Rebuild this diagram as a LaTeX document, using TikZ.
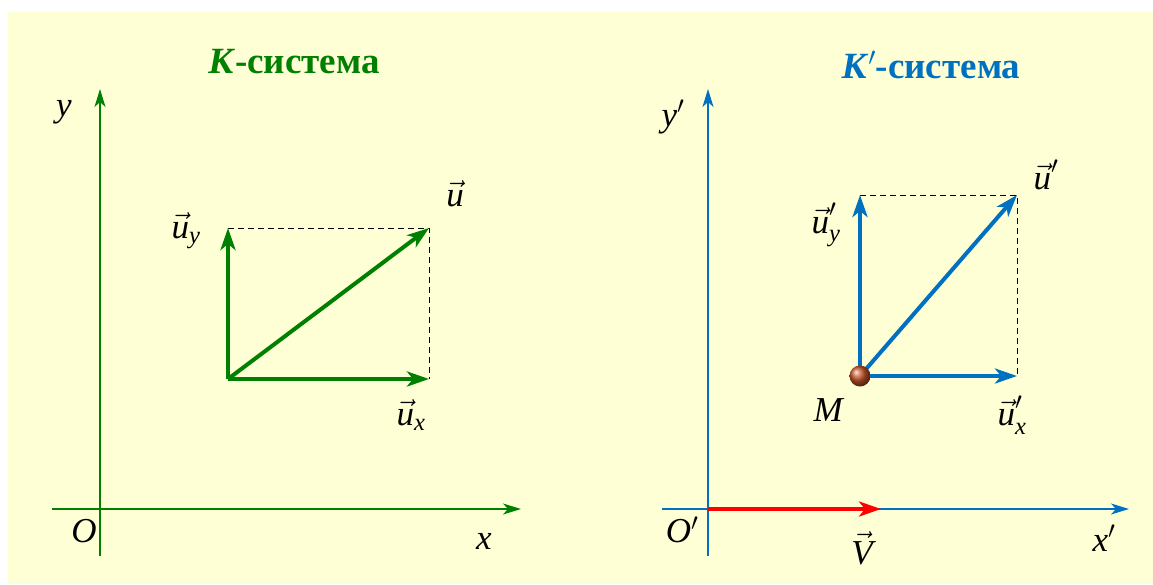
\documentclass[tikz,border=0pt]{standalone}
\usepackage{fix-cm}
\usepackage{amsmath}
\usepackage{fontspec}
\setmainfont{Liberation Serif}
\usetikzlibrary{arrows.meta}
\definecolor{bg}{RGB}{255,255,214}
\definecolor{kgreen}{RGB}{0,128,0}
\definecolor{kblue}{RGB}{0,112,192}
\definecolor{kred}{RGB}{255,0,0}
\definecolor{ballc}{RGB}{200,85,40}
\begin{document}
\begin{tikzpicture}[x=1pt,y=-1pt,
  axis/.style={line width=1.6pt,-{Stealth[length=18pt,width=11pt,inset=5pt]}},
  vecarrow/.style={line width=4pt,-{Stealth[length=22pt,width=15pt,inset=6pt]}},
  proj/.style={line width=1pt,dash pattern=on 6pt off 4pt},
  lbl/.style={font=\fontsize{35}{40}\selectfont, inner sep=0pt},
  ttl/.style={font=\fontsize{37}{42}\selectfont\bfseries, inner sep=0pt}]
\useasboundingbox (0,0) rectangle (1153,584);
\fill[white] (0,0) rectangle (1153,584);
\fill[bg] (8,12) rectangle (1153,584);

% ---------- K system ----------
\coordinate (Oyb) at (100,556);
\coordinate (Oyt) at (100,89);
\coordinate (Oxl) at (52,509);
\coordinate (Oxr) at (521,509);
\draw[axis,kgreen] (Oyb) -- (Oyt);
\draw[axis,kgreen] (Oxl) -- (Oxr);

\coordinate (A) at (228,379);
\coordinate (Ay) at (228,228);
\coordinate (Ax) at (429,379);
\coordinate (Au) at (429,228);
\draw[proj] (Ay) -- (Au) -- (Ax);
\draw[vecarrow,kgreen] (A) -- (Ay);
\draw[vecarrow,kgreen] (A) -- (Ax);
\draw[vecarrow,kgreen] (A) -- (Au);

\node[ttl,kgreen] (t1) at (294,62) {\textit{К}-система};
\node[lbl] (ly) at (64,112) {\textit{y}};
\node[lbl] (lO) at (84,531) {\textit{O}};
\node[lbl] (lx) at (484,541) {\textit{x}};
\node[lbl] (luy) at (186,231) {$\vec{\textit{u}}_{\textit{y}}$};
\node[lbl] (lu) at (455,194) {$\vec{\textit{u}}$};
\node[lbl] (lux) at (411,415) {$\vec{\textit{u}}_{\textit{x}}$};

% ---------- K' system ----------
\coordinate (Pyb) at (708,556);
\coordinate (Pyt) at (708,89);
\coordinate (Pxl) at (662,509);
\coordinate (Pxr) at (1129,509);
\draw[axis,kblue] (Pyb) -- (Pyt);
\draw[axis,kblue] (Pxl) -- (Pxr);
\coordinate (Vs) at (708,509);
\coordinate (Ve) at (881,509);
\draw[vecarrow,kred] (Vs) -- (Ve);

\coordinate (M) at (860,376);
\coordinate (My) at (860,195);
\coordinate (Mx) at (1017,376);
\coordinate (Mu) at (1017,195);
\draw[proj] (My) -- (Mu) -- (Mx);
\draw[vecarrow,kblue] (M) -- (My);
\draw[vecarrow,kblue] (M) -- (Mx);
\draw[vecarrow,kblue] (M) -- (Mu);
\shade[ball color=ballc] (M) circle (10.5);

\node[ttl,kblue] (t2) at (931,65) {\textit{К}$'$-система};
\node[lbl] (lyp) at (673,117) {\textit{y}$'$};
\node[lbl] (lOp) at (682,530) {\textit{O}$'$};
\node[lbl] (lxp) at (1104,538) {\textit{x}$'$};
\node[lbl] (lV) at (862,548) {$\vec{\textit{V}}$};
\node[lbl] (luyp) at (826,225) {$\vec{\textit{u}}'_{\textit{y}}$};
\node[lbl] (lup) at (1046,175) {$\vec{\textit{u}}'$};
\node[lbl] (luxp) at (1012,415) {$\vec{\textit{u}}'_{\textit{x}}$};
\node[lbl] (lM) at (829,410) {\textit{M}};
\end{tikzpicture}
\end{document}
